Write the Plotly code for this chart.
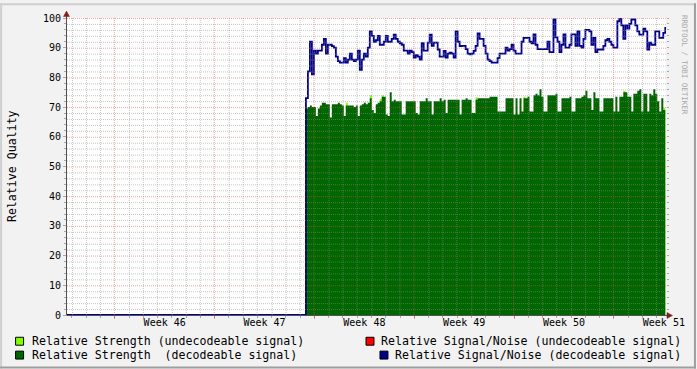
import math
import plotly.graph_objects as go

# ---------------- data ----------------
# x axis is measured in days since the start (Monday) of ISO week 46
WEEK_LABELS = ["Week 46", "Week 47", "Week 48", "Week 49", "Week 50", "Week 51"]
WEEK_CENTERS = [3.5, 10.5, 17.5, 24.5, 31.5, 38.5]
WEEK_STARTS = [0, 7, 14, 21, 28, 35]
X_RANGE = [-3.35, 38.65]
Y_RANGE = [0, 100]
DATA_START = 13.4      # first sample (day)
DATA_STEP = 0.14       # sampling step (days)

# Relative Signal/Noise (decodeable signal)
snr_decoded = [
    73, 82, 92, 81, 89, 88, 89, 89, 91, 93,
    88, 91, 91, 90.5, 90, 87, 85.5, 85, 85, 86.5,
    85, 86, 88, 86, 85.5, 86, 89, 82.5, 86, 88,
    87, 90, 95.5, 94, 92, 92.5, 94, 91, 91, 92,
    94, 92,
    92, 93, 94.4, 93, 92, 91.5, 91, 89, 89, 88,
    89, 88.5, 86.7, 87.5, 87, 86, 91.5, 89, 89, 91.7,
    94.4, 90.6, 91.7, 91.7, 89.4, 87, 87, 88.9, 86.7, 88,
    88.3, 88, 86.7, 95.5, 92, 90.5, 90.6, 90.6, 89.5, 88,
    87.8, 88, 88.9, 90.6, 94.8, 93, 93, 90.6,
    88, 86, 85.5, 85, 85, 85, 86.5, 88, 88, 88,
    90, 89, 89.5, 91, 89, 88, 88, 88, 92, 93.3,
    93.3, 93.3, 92, 91.5, 94.5, 91, 89.5, 89.5, 89.5, 89.5,
    89.5, 92, 88.5, 88.5, 99.5, 93.5, 92, 88.5, 91, 94.5,
    90, 90, 91,
    94.5, 94.5, 90.6, 95.5, 90.6, 90, 93, 96, 96, 95.5,
    91, 93.3, 88.5, 89.4, 89.4, 89.4, 90.6, 92.5, 93, 92,
    91, 90, 90, 98.9, 100, 97.5, 93, 97.5, 96.4, 98,
    99.5, 99.5, 97.5, 95.5, 94.4, 94.4, 96.4, 95.5, 89.4, 91.7,
    91, 91, 95.5, 95.5, 93.3, 93.3, 95, 97,
]

# Relative Strength (decodeable signal)
strength_decoded = [
    69.5, 70, 70.5, 70, 70, 67, 69.5, 70.5, 71.5, 71.5,
    71, 71, 66.5, 71, 71, 71, 71.5, 71, 70.5, 67,
    70.5, 70.5, 70.5, 70.5, 70, 70.5, 67, 70.5, 71, 71.5,
    71, 71.5, 73, 69, 68, 71, 71.5, 72, 73.5, 73.5,
    67.5, 67,
    75, 72, 72.5, 72, 72, 72, 67.5, 67.5, 72, 72,
    72, 72, 72, 68, 67.5, 72, 72, 72, 73, 72,
    72, 67.5, 72, 72, 72, 73, 72, 72.5, 68, 72.5,
    72.5, 72.5, 72.5, 72.5, 72.5, 67.5, 72.5, 72.5, 73, 72.5,
    72.5, 68, 68, 72.5, 73, 73, 73, 73,
    73, 73, 73.5, 73.5, 73.5, 73.5, 68.5, 68.5, 68.5, 68.5,
    73, 73, 73, 73, 67.5, 73, 67.5, 73, 68.5, 73,
    73, 73.5, 68.5, 68.5, 74, 74.5, 74, 76, 73.5, 68.5,
    68.5, 74, 74, 74, 74, 74.5, 68.5, 68.5, 73, 73,
    73, 73, 73.5,
    68.5, 68.5, 73, 73, 73, 73.5, 74, 75.5, 73, 73,
    69, 75, 73, 73, 68.5, 68.5, 73, 73, 73, 73,
    73, 68.5, 73.5, 68.5, 73.5, 73.5, 75, 75, 73.5, 73.5,
    68.5, 74.5, 74.5, 75.5, 76, 68.5, 74.5, 74.5, 68.5, 74.5,
    74, 76, 74.5, 72, 68.5, 73, 69, 69,
]

# Relative Strength (undecodeable signal) - only shows where it exceeds the decodeable strength
strength_undecoded = [
    0, 0, 0, 0, 0, 0, 0, 0, 0, 0,
    0, 0, 0, 0, 0, 0, 0, 0, 0, 0,
    71.5, 0, 0, 0, 0, 0, 0, 0, 0, 0,
    0, 0, 74, 0, 0, 0, 0, 72.7, 74, 0,
    0, 0, 0, 0, 0, 0, 0, 0, 0, 0,
    0, 0, 0, 0, 0, 0, 0, 0, 0, 0,
    0, 0, 0, 0, 0, 0, 0, 0, 0, 0,
    0, 0, 0, 0, 0, 0, 0, 0, 0, 0,
    0, 0, 0, 0, 0, 73.3, 0, 0, 0, 0,
    0, 0, 0, 0, 0, 0, 0, 0, 0, 0,
    0, 0, 0, 0, 0, 0, 0, 0, 0, 73.5,
    0, 0, 0, 0, 0, 0, 0, 0, 0, 0,
    0, 0, 0, 0, 0, 0, 0, 0, 0, 0,
    0, 0, 0, 0, 0, 0, 0, 0, 0, 0,
    0, 0, 0, 0, 0, 0, 0, 0, 0, 0,
    0, 0, 0, 0, 0, 0, 0, 0, 0, 75.5,
    0, 0, 0, 0, 0, 0, 0, 0, 0, 0,
    0, 0, 0, 0, 0, 0, 0, 0, 0, 69.7,
    0,
]

LEGEND_LABELS = [
    "Relative Strength (undecodeable signal)",
    "Relative Signal/Noise (undecodeable signal)",
    "Relative Strength  (decodeable signal)",
    "Relative Signal/Noise (decodeable signal)",
]

# ---------------- styles ----------------
LIGHT_GREEN = "#80FF00"
DARK_GREEN = "#006600"
RED = "#FF0000"
BLUE = "#000088"
GRID = "rgba(143,143,143,0.5)"
MGRID = "rgba(222,79,79,0.5)"
TICK_MINOR = "rgba(143,143,143,0.75)"
TICK_MAJOR = "rgba(222,79,79,0.6)"
AXIS = "#505050"
ARROW = "rgb(128,31,31)"
SHADE_A = "#CFCFCF"
SHADE_B = "#9E9E9E"
FONT = "DejaVu Sans Mono"

W, H = 697, 369
PLOT_L, PLOT_R, PLOT_T, PLOT_B = 67, 667, 15, 315


def pxx(p):
    return (p - PLOT_L) / (PLOT_R - PLOT_L)


def pyy(p):
    return (PLOT_B - p) / (PLOT_B - PLOT_T)


def day_to_px(d):
    return PLOT_L + (d - X_RANGE[0]) * (PLOT_R - PLOT_L) / (X_RANGE[1] - X_RANGE[0])


def px_to_day(p):
    return X_RANGE[0] + (p - PLOT_L) * (X_RANGE[1] - X_RANGE[0]) / (PLOT_R - PLOT_L)


def val_to_py(v):
    return PLOT_B - (v - Y_RANGE[0]) * (PLOT_B - PLOT_T) / (Y_RANGE[1] - Y_RANGE[0])


def py_to_val(p):
    return Y_RANGE[0] + (PLOT_B - p) * (Y_RANGE[1] - Y_RANGE[0]) / (PLOT_B - PLOT_T)


# ---------------- traces ----------------
n = len(snr_decoded)
x_series = [X_RANGE[0]] + [DATA_START + i * DATA_STEP for i in range(n)]

fig = go.Figure()
fig.add_trace(go.Scatter(x=x_series, y=[0] + strength_undecoded, mode="lines",
                         line=dict(width=0, shape="hv"), fill="tozeroy",
                         fillcolor=LIGHT_GREEN, hoverinfo="skip",
                         name=LEGEND_LABELS[0]))
fig.add_trace(go.Scatter(x=x_series, y=[0] + strength_decoded, mode="lines",
                         line=dict(width=0, shape="hv"), fill="tozeroy",
                         fillcolor=DARK_GREEN, name=LEGEND_LABELS[2]))
fig.add_trace(go.Scatter(x=x_series, y=[0] + snr_decoded, mode="lines",
                         line=dict(width=1.8, color=BLUE, shape="hv"),
                         name=LEGEND_LABELS[3]))
# helper traces so the overlay axes (major x ticks, right-side y ticks) are drawn
fig.add_trace(go.Scatter(x=[None], y=[None], xaxis="x2", yaxis="y", showlegend=False, hoverinfo="skip"))
fig.add_trace(go.Scatter(x=[None], y=[None], xaxis="x", yaxis="y2", showlegend=False, hoverinfo="skip"))

# ---------------- grid (drawn above the areas, like rrdtool) ----------------
shapes = []
minor_v, major_v = [], []
for d in range(math.ceil(X_RANGE[0]), math.floor(X_RANGE[1]) + 1):
    p = math.floor(day_to_px(d)) + 0.5
    (major_v if d % 7 == 0 else minor_v).append(px_to_day(p))
minor_h, major_h = [], []
for v in range(Y_RANGE[0] + 2, Y_RANGE[1] + 1, 2):
    p = math.floor(val_to_py(v)) + 0.5
    (major_h if v % 10 == 0 else minor_h).append(py_to_val(p))

for xs, col in ((minor_v, GRID), (major_v, MGRID)):
    for xv in xs:
        shapes.append(dict(type="line", xref="x", yref="paper", x0=xv, x1=xv, y0=0, y1=1,
                           line=dict(color=col, width=1, dash="1px,1px"), layer="above"))
for ys, col in ((minor_h, GRID), (major_h, MGRID)):
    for yv in ys:
        shapes.append(dict(type="line", xref="paper", yref="y", x0=0, x1=1, y0=yv, y1=yv,
                           line=dict(color=col, width=1, dash="1px,1px"), layer="above"))

# axis extensions and arrows
shapes.append(dict(type="line", xref="paper", yref="paper", x0=pxx(66.5), x1=pxx(66.5),
                   y0=pyy(315), y1=pyy(12), line=dict(color=AXIS, width=1), layer="above"))
shapes.append(dict(type="line", xref="paper", yref="paper", x0=pxx(66.5), x1=pxx(669),
                   y0=pyy(315.5), y1=pyy(315.5), line=dict(color=AXIS, width=1), layer="above"))
shapes.append(dict(type="path", xref="paper", yref="paper",
                   path=f"M {pxx(63.5)},{pyy(13.5)} L {pxx(69.5)},{pyy(13.5)} L {pxx(66.5)},{pyy(8)} Z",
                   fillcolor=ARROW, line=dict(color=ARROW, width=0.5), layer="above"))
shapes.append(dict(type="path", xref="paper", yref="paper",
                   path=f"M {pxx(668)},{pyy(312.5)} L {pxx(668)},{pyy(318.5)} L {pxx(673.5)},{pyy(315.5)} Z",
                   fillcolor=ARROW, line=dict(color=ARROW, width=0.5), layer="above"))

# 3D-ish frame of the image
def rect(x0, y0, x1, y1, col, lw=0, lc=None):
    return dict(type="rect", xref="paper", yref="paper", x0=pxx(x0), x1=pxx(x1),
                y0=pyy(y0), y1=pyy(y1), fillcolor=col,
                line=dict(width=lw, color=lc or col), layer="above")

shapes.append(rect(0, 0, W, 2, SHADE_A))
shapes.append(rect(0, 0, 2, H, SHADE_A))
shapes.append(rect(0, H - 2, W, H, SHADE_B))
shapes.append(rect(W - 2, 0, W, H, SHADE_B))

# legend swatches
swatches = [(15, 337, LIGHT_GREEN), (366, 337, RED), (15, 351, DARK_GREEN), (380, 351, BLUE)]
for sx, sy, col in swatches:
    shapes.append(rect(sx + 0.5, sy + 0.5, sx + 8.5, sy + 8.5, col, lw=1, lc="black"))

annotations = []
legend_text_pos = [(30, 341), (380, 341), (30, 355), (394, 355)]
for (tx, ty), label in zip(legend_text_pos, LEGEND_LABELS):
    annotations.append(dict(text=label, xref="paper", yref="paper", x=pxx(tx), y=pyy(ty),
                            xanchor="left", yanchor="middle", showarrow=False,
                            font=dict(family=FONT, size=11.6, color="black")))
annotations.append(dict(text="Relative Quality", xref="paper", yref="paper",
                        x=pxx(11.5), y=pyy(165), textangle=-90, showarrow=False,
                        xanchor="center", yanchor="middle",
                        font=dict(family=FONT, size=11.6, color="black")))
annotations.append(dict(text="RRDTOOL / TOBI OETIKER", xref="paper", yref="paper",
                        x=pxx(685.5), y=pyy(63), textangle=90, showarrow=False,
                        xanchor="center", yanchor="middle",
                        font=dict(family=FONT, size=7.5, color="#A8A8A8")))

fig.update_layout(
    width=W, height=H,
    margin=dict(l=PLOT_L, r=W - PLOT_R, t=PLOT_T, b=H - PLOT_B, pad=0),
    paper_bgcolor="#F2F2F2", plot_bgcolor="#FFFFFF",
    showlegend=False,
    font=dict(family=FONT, size=10, color="black"),
    xaxis=dict(range=X_RANGE, tickmode="array", tickvals=WEEK_CENTERS, ticktext=WEEK_LABELS,
               ticks="", showgrid=False, zeroline=False, showline=False,
               tickfont=dict(family=FONT, size=10, color="black"),
               minor=dict(tick0=0, dtick=1, ticks="outside", ticklen=2, tickcolor=TICK_MINOR,
                          showgrid=False)),
    xaxis2=dict(range=X_RANGE, overlaying="x", anchor="y", side="bottom",
                tickmode="array", tickvals=WEEK_STARTS, showticklabels=False,
                ticks="outside", ticklen=3, tickcolor=TICK_MAJOR,
                showgrid=False, zeroline=False, showline=False),
    yaxis=dict(range=Y_RANGE, tickmode="linear", tick0=0, dtick=10,
               ticks="outside", ticklen=3, tickcolor=TICK_MAJOR,
               showgrid=False, zeroline=False, showline=False,
               tickfont=dict(family=FONT, size=10, color="black"),
               minor=dict(tick0=0, dtick=2, ticks="outside", ticklen=2, tickcolor=TICK_MINOR,
                          showgrid=False)),
    yaxis2=dict(range=Y_RANGE, overlaying="y", anchor="x", side="right",
                tickmode="linear", tick0=0, dtick=10, showticklabels=False,
                ticks="outside", ticklen=2, tickcolor=TICK_MAJOR,
                showgrid=False, zeroline=False, showline=False,
                minor=dict(tick0=0, dtick=2, ticks="outside", ticklen=2, tickcolor=TICK_MINOR,
                           showgrid=False)),
    shapes=shapes,
    annotations=annotations,
)

fig.write_html("out.html")
